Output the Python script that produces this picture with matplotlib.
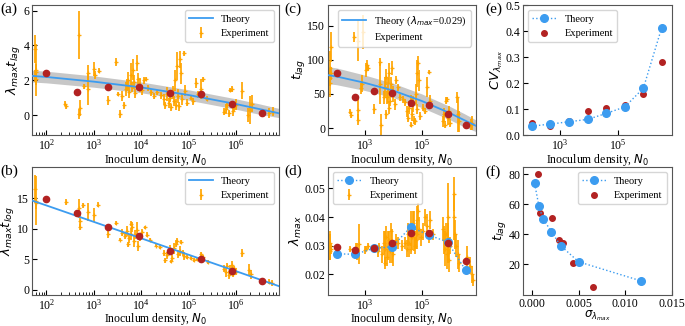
import numpy as np
import matplotlib
matplotlib.use("Agg")
import matplotlib.pyplot as plt

plt.rcParams['font.family'] = 'serif'
plt.rcParams['font.serif'] = ['Liberation Serif', 'DejaVu Serif']
plt.rcParams['mathtext.fontset'] = 'dejavusans'
plt.rcParams['font.size'] = 9

# ---------------- data ----------------
N_red = [100, 450, 2000, 9000, 40000, 180000, 800000, 3500000]
a_red = [2.40, 1.32, 1.59, 1.59, 1.27, 1.19, 0.65, 0.13]
b_red = [14.8, 12.6, 10.2, 8.86, 6.29, 4.98, 3.04, 1.46]
c_red = [81, 46, 55, 51.6, 36.5, 34.5, 21, 4.8]
d_red = [0.0296, 0.0285, 0.0292, 0.0309, 0.0343, 0.0343, 0.0311, 0.0248]
d_theory = [0.0272, 0.0270, 0.0291, 0.0296, 0.0365, 0.0337, 0.0313, 0.0214]
e_red = [0.047, 0.036, 0.052, 0.093, 0.103, 0.114, 0.159, 0.279]
e_theory = [0.034, 0.042, 0.051, 0.060, 0.083, 0.108, 0.180, 0.413]

f_sigma_theory = [0.0003, 0.00077, 0.0012, 0.0021, 0.0031, 0.0050, 0.0117]
f_tlag_theory = [74.0, 58.7, 50.5, 41.8, 32.4, 21.7, 8.9]
f_sigma_red = [0.00063, 0.00084, 0.0022, 0.0029, 0.0033, 0.0044, 0.0065]
f_tlag_red = [80.6, 54.4, 51.2, 36.4, 34.3, 20.6, 4.6]

N_curve = [50, 100, 1e3, 1e4, 1e5, 1e6, 3e6, 8e6]
a_curve = [2.25, 2.19, 1.92, 1.59, 1.15, 0.63, 0.35, 0.10]
a_low = [1.90, 1.85, 1.60, 1.28, 0.85, 0.33, 0.05, -0.15]
a_high = [2.58, 2.52, 2.25, 1.90, 1.45, 0.93, 0.65, 0.38]
b_curve = [14.6, 13.8, 11.1, 8.4, 5.7, 3.0, 1.7, 0.55]
c_curve = [77.5, 75.5, 66.2, 54.8, 39.7, 21.7, 12.0, 3.4]
c_low = [65, 63.5, 55, 44.5, 30, 12, 2, -5]
c_high = [90, 88, 77.5, 65.5, 50, 31.5, 21.5, 12]

exp_a = [(58, 3.8, 0.8), (60, 2.6, 1.5), (62, 2.45, 0.5), (59, 2.25, 0.35), (61, 2.05, 0.3),
         (250, 0.65, 0.15), (265, 0.5, 0.15),
         (500, 4.6, 1.4), (510, 0.4, 0.45), (495, 0.05, 0.3),
         (620, 1.65, 0.15), (760, 2.4, 0.5), (740, 1.5, 0.9),
         (1000, 2.65, 0.4), (1050, 2.3, 0.25), (1300, 2.55, 0.15),
         (2000, 0.85, 0.25), (2900, 3.05, 0.25), (3200, 1.2, 0.1), (3500, 0.05, 0.25),
         (4000, 1.1, 0.3), (4300, 0.55, 0.2), (4700, 1.5, 0.4), (5000, 1.75, 0.35), (5300, 2.0, 0.5),
         (5600, 1.3, 0.3), (6000, 2.3, 0.7), (6300, 1.6, 0.3), (6700, 2.6, 0.6), (7000, 1.9, 0.4),
         (7500, 1.25, 0.25), (8000, 3.0, 0.45), (8500, 2.1, 0.3), (9500, 1.75, 0.4), (10500, 1.45, 0.3),
         (11500, 2.0, 0.2), (12500, 2.1, 0.1), (14000, 1.55, 0.15), (16000, 1.3, 0.2), (19000, 1.1, 0.15),
         (22000, 1.3, 0.15), (26000, 1.15, 0.2),
         (30000, 0.9, 0.3), (32000, 0.55, 0.2), (35000, 1.2, 0.4), (38000, 0.7, 0.3), (40000, 1.0, 0.25),
         (43000, 0.45, 0.2), (46000, 1.3, 0.35), (50000, 0.8, 0.3), (52000, 2.0, 0.6), (55000, 0.6, 0.3),
         (58000, 2.8, 0.8), (60000, 1.1, 0.4), (63000, 0.5, 0.25), (66000, 3.2, 0.5), (70000, 2.4, 0.6),
         (74000, 0.9, 0.3), (78000, 3.55, 0.15), (82000, 1.4, 0.3), (90000, 0.7, 0.2),
         (110000, 1.0, 0.15), (125000, 0.8, 0.2), (140000, 1.85, 0.3), (160000, 1.2, 0.2),
         (185000, 1.5, 0.6), (200000, 2.05, 0.15), (240000, 0.95, 0.15),
         (550000, 0.2, 0.2), (600000, 0.35, 0.3), (650000, 0.55, 0.2), (700000, 0.1, 0.2),
         (750000, 1.45, 0.12), (800000, 1.5, 0.15), (850000, 0.25, 0.3), (900000, 0.45, 0.2),
         (1000000, 0.6, 0.3),
         (1300000, 1.4, 0.5), (1800000, 0.0, 0.4), (2000000, 0.3, 0.8), (2200000, 0.65, 0.5),
         (5000000, 0.1, 0.3), (6000000, 0.2, 0.25)]

exp_b = [(58, 16.5, 2.3), (60, 14.6, 4.0), (62, 14.2, 1.0), (260, 14.3, 0.5),
         (500, 13.3, 1.5), (505, 11.2, 1.0), (510, 10.2, 0.5), (600, 13.8, 0.4), (760, 12.7, 1.5),
         (1000, 12.2, 1.2), (1250, 13.9, 0.4), (2000, 9.1, 0.6), (2900, 10.9, 0.3),
         (3500, 8.2, 0.3), (4000, 9.3, 0.6), (4500, 8.8, 0.5), (5000, 9.6, 0.8), (5200, 7.4, 0.4),
         (5500, 8.4, 0.7), (6000, 9.1, 1.0), (6200, 10.8, 0.4), (6500, 10.2, 0.8), (7000, 8.0, 1.0),
         (7500, 9.0, 0.7), (8000, 9.8, 1.2), (8500, 7.2, 0.8), (9500, 8.6, 0.6), (10500, 9.5, 0.5),
         (12000, 10.2, 0.3), (13000, 9.0, 0.4), (15000, 8.2, 0.3), (20000, 7.2, 0.3), (25000, 7.0, 0.3),
         (30000, 6.0, 0.5), (32000, 4.8, 0.4), (35000, 5.6, 0.6), (40000, 6.5, 0.8), (42000, 4.6, 0.3),
         (45000, 5.2, 0.5), (50000, 6.8, 0.9), (55000, 7.5, 0.6), (58000, 8.0, 0.5), (60000, 5.8, 0.7),
         (65000, 6.3, 0.8), (70000, 7.8, 0.4), (75000, 6.0, 0.5), (80000, 5.5, 0.6), (90000, 5.3, 0.3),
         (110000, 5.2, 0.3), (130000, 4.8, 0.3), (150000, 5.0, 0.4), (180000, 5.8, 0.3),
         (200000, 5.3, 0.3), (250000, 4.5, 0.3),
         (550000, 3.4, 0.6), (600000, 2.8, 0.8), (650000, 3.8, 0.5), (700000, 2.4, 0.6),
         (750000, 3.2, 0.9), (800000, 4.0, 0.6), (850000, 2.6, 0.5), (900000, 3.5, 0.4),
         (1000000, 2.9, 0.6), (1300000, 6.0, 0.7), (1900000, 3.2, 1.0), (2100000, 2.5, 0.7),
         (5000000, 1.3, 0.4), (5800000, 1.0, 0.5)]

exp_c = [(62, 119, 22), (60, 88, 25), (64, 80, 10), (59, 74, 12), (61, 66, 20),
         (300, 24, 4), (315, 19, 4),
         (570, 128, 30), (565, 27, 15), (585, 12, 8),
         (700, 58, 8), (760, 65, 12), (820, 140, 25),
         (1050, 85, 10), (1150, 92, 8), (1300, 88, 5),
         (2000, 28, 8), (3300, 97, 6), (3500, 65, 30), (3700, 5, 15),
         (4500, 45, 10), (5000, 60, 15), (5300, 20, 6), (5600, 75, 12), (6000, 45, 10),
         (6500, 55, 18), (6800, 30, 10), (7200, 80, 15), (7600, 40, 8), (8200, 65, 10),
         (9000, 88, 10), (10000, 50, 12), (11000, 35, 8), (12000, 70, 6), (14000, 60, 5),
         (17000, 45, 5), (21000, 42, 5), (25000, 38, 5),
         (30000, 25, 8), (33000, 15, 6), (36000, 30, 10), (40000, 40, 8), (42000, 5, 4),
         (45000, 20, 10), (50000, 35, 12), (53000, 12, 6), (57000, 10, 5), (60000, 50, 15),
         (65000, 28, 8), (70000, 80, 20), (75000, 95, 10), (80000, 70, 15), (88000, 18, 6),
         (110000, 30, 5), (130000, 25, 5), (150000, 60, 15), (180000, 82, 3), (200000, 40, 8),
         (550000, 10, 8), (600000, 20, 10), (650000, 5, 5), (700000, 40, 5), (750000, 42, 4),
         (800000, 15, 10), (900000, 25, 8), (1000000, 8, 6),
         (1700000, 45, 8), (1800000, 20, 25), (2000000, 10, 15),
         (5500000, 5, 8), (6000000, 8, 10)]

exp_d = [(58, 0.030, 0.005), (60, 0.028, 0.003), (62, 0.029, 0.002), (61, 0.031, 0.003),
         (300, 0.0288, 0.001), (500, 0.029, 0.002), (520, 0.028, 0.003), (620, 0.0305, 0.007),
         (1000, 0.0285, 0.0015), (1100, 0.029, 0.001), (1300, 0.030, 0.001),
         (2200, 0.029, 0.001), (2800, 0.028, 0.002), (3200, 0.0295, 0.0015),
         (4000, 0.027, 0.003), (4500, 0.031, 0.004), (5000, 0.029, 0.006), (5200, 0.024, 0.002),
         (5500, 0.033, 0.004), (6000, 0.026, 0.003), (6500, 0.030, 0.005), (7000, 0.032, 0.003),
         (7500, 0.028, 0.004), (8000, 0.035, 0.003), (9000, 0.030, 0.006), (10000, 0.027, 0.004),
         (12000, 0.032, 0.002), (14000, 0.031, 0.002),
         (20000, 0.030, 0.002), (25000, 0.031, 0.002), (30000, 0.029, 0.003),
         (32000, 0.034, 0.004), (35000, 0.031, 0.005), (40000, 0.036, 0.006), (42000, 0.029, 0.002),
         (45000, 0.033, 0.004), (50000, 0.038, 0.004), (55000, 0.035, 0.007), (58000, 0.030, 0.003),
         (60000, 0.032, 0.003), (65000, 0.039, 0.005), (70000, 0.034, 0.005), (75000, 0.042, 0.003),
         (80000, 0.036, 0.004), (90000, 0.033, 0.003),
         (110000, 0.035, 0.003), (130000, 0.040, 0.003), (150000, 0.037, 0.004),
         (180000, 0.033, 0.002), (200000, 0.039, 0.003), (250000, 0.034, 0.002),
         (550000, 0.036, 0.004), (600000, 0.032, 0.005), (650000, 0.029, 0.006), (700000, 0.034, 0.004),
         (750000, 0.027, 0.005), (800000, 0.031, 0.007), (850000, 0.040, 0.012), (900000, 0.025, 0.004),
         (1000000, 0.030, 0.003),
         (1300000, 0.048, 0.006), (1400000, 0.040, 0.008), (1500000, 0.034, 0.005),
         (1600000, 0.030, 0.004), (1800000, 0.027, 0.005), (2000000, 0.024, 0.003),
         (4000000, 0.026, 0.004), (5000000, 0.023, 0.003), (6000000, 0.020, 0.003), (6500000, 0.018, 0.002)]

# ---------------- style ----------------
ORANGE = '#FFA500'
RED = '#B22222'
BLUE = '#3C9CF0'
XLIM = (50, 8e6)
XLABEL = 'Inoculum density, $N_0$'
W, H = 685, 326
LAB = 8.5
TICK = 8.5
LEG = 7.5

fig = plt.figure(figsize=(6.85, 3.26), dpi=100)


def rect(l, r, t, b):
    return [l / W, 1 - b / H, (r - l) / W, (b - t) / H]


ax_a = fig.add_axes(rect(32, 279, 5, 135))
ax_b = fig.add_axes(rect(32, 279, 167, 295))
ax_c = fig.add_axes(rect(328, 476, 5, 135))
ax_d = fig.add_axes(rect(328, 476, 167, 295))
ax_e = fig.add_axes(rect(523, 672, 5, 135))
ax_f = fig.add_axes(rect(523, 672, 167, 295))

for ax in (ax_a, ax_b, ax_c, ax_d, ax_e, ax_f):
    ax.tick_params(direction='in', which='both', labelsize=TICK, pad=2)
    ax.tick_params(which='major', length=3.5)
    ax.tick_params(which='minor', length=2)
    for s in ax.spines.values():
        s.set_color('#555555')


def exp_plot(ax, data):
    n, y, e = map(np.array, zip(*data))
    return ax.errorbar(n, y, yerr=e, fmt='+', ms=3, mew=0.9, color=ORANGE,
                       ecolor=ORANGE, elinewidth=1.3, alpha=0.95, zorder=2,
                       label='Experiment')


def xlab(ax, text=XLABEL, pad=0):
    ax.set_xlabel(text, fontsize=LAB, labelpad=pad)


def ylab(ax, text):
    ax.set_ylabel(text, fontsize=9.5, labelpad=0)


# (a)
ax_a.set_xscale('log')
ax_a.fill_between(N_curve, a_low, a_high, color='#9a9a9a', alpha=0.55, lw=0, zorder=1)
ax_a.plot(N_curve, a_curve, color=BLUE, lw=1.3, zorder=3, label='Theory')
exp_plot(ax_a, exp_a)
ax_a.plot(N_red, a_red, 'o', color=RED, ms=4.5, zorder=4)
ax_a.set_xlim(*XLIM)
ax_a.set_ylim(-1.15, 6.33)
ax_a.set_yticks([0, 2, 4, 6])
xlab(ax_a)
ylab(ax_a, r'$\lambda_{max}t_{lag}$')
ax_a.legend(loc='upper right', fontsize=LEG, handlelength=2.3)

# (b)
ax_b.set_xscale('log')
ax_b.plot(N_curve, b_curve, color=BLUE, lw=1.3, zorder=3, label='Theory')
exp_plot(ax_b, exp_b)
ax_b.plot(N_red, b_red, 'o', color=RED, ms=4.5, zorder=4)
ax_b.set_xlim(*XLIM)
ax_b.set_ylim(-0.9, 20.1)
ax_b.set_yticks([0, 5, 10, 15])
xlab(ax_b, pad=-1)
ylab(ax_b, r'$\lambda_{max}t_{log}$')
ax_b.legend(loc='upper right', fontsize=LEG, handlelength=2.3)

# (c)
ax_c.set_xscale('log')
ax_c.fill_between(N_curve, c_low, c_high, color='#9a9a9a', alpha=0.55, lw=0, zorder=1)
ax_c.plot(N_curve, c_curve, color=BLUE, lw=1.3, zorder=3,
          label=r'Theory ($\lambda_{max}$=0.029)')
exp_plot(ax_c, exp_c)
ax_c.plot(N_red, c_red, 'o', color=RED, ms=4.5, zorder=4)
ax_c.set_xlim(*XLIM)
ax_c.set_ylim(-10, 180)
ax_c.set_yticks([0, 50, 100, 150])
ax_c.set_xticks([1e3, 1e5])
xlab(ax_c)
ylab(ax_c, r'$t_{lag}$')
ax_c.legend(loc='upper right', fontsize=LEG, handlelength=2.3)

# (d)
ax_d.set_xscale('log')
exp_plot(ax_d, exp_d)
ax_d.plot(N_red, d_red, 'o', color=RED, ms=4.5, zorder=4)
ax_d.plot(N_red, d_theory, 'o:', color=BLUE, ms=5.5, lw=1, zorder=3, label='Theory')
ax_d.set_xlim(*XLIM)
ax_d.set_ylim(0.0128, 0.0575)
ax_d.set_yticks([0.02, 0.03, 0.04, 0.05])
ax_d.set_xticks([1e3, 1e5])
xlab(ax_d, pad=-1)
ylab(ax_d, r'$\lambda_{max}$')
h, l = ax_d.get_legend_handles_labels()
order = [l.index('Theory'), l.index('Experiment')]
ax_d.legend([h[i] for i in order], [l[i] for i in order], loc='upper left',
            fontsize=LEG, handlelength=2.3)

# (e)
ax_e.set_xscale('log')
ax_e.plot(N_red, e_red, 'o', color=RED, ms=4, zorder=3, label='Experiment')
ax_e.plot(N_red, e_theory, 'o:', color=BLUE, ms=5.5, lw=1, zorder=4, label='Theory')
ax_e.set_xlim(*XLIM)
ax_e.set_ylim(0, 0.5)
ax_e.set_xticks([1e3, 1e5])
xlab(ax_e)
ylab(ax_e, r'$CV_{\lambda_{max}}$')
h, l = ax_e.get_legend_handles_labels()
ax_e.legend(h[::-1], l[::-1], loc='upper left', fontsize=LEG, handlelength=2.3)

# (f)
ax_f.plot(f_sigma_red, f_tlag_red, 'o', color=RED, ms=4, zorder=3, label='Experiment')
ax_f.plot(f_sigma_theory, f_tlag_theory, 'o:', color=BLUE, ms=5.5, lw=1, zorder=4, label='Theory')
ax_f.set_xlim(-0.00094, 0.015)
ax_f.set_ylim(-0.5, 85)
ax_f.set_xticks([0, 0.005, 0.010, 0.015])
ax_f.set_xticklabels(['0.000', '0.005', '0.010', '0.015'])
ax_f.set_yticks([20, 40, 60, 80])
xlab(ax_f, r'$\sigma_{\lambda_{max}}$', pad=-1)
ylab(ax_f, r'$t_{lag}$')
h, l = ax_f.get_legend_handles_labels()
ax_f.legend(h[::-1], l[::-1], loc='upper right', fontsize=LEG, handlelength=2.3)

# panel letters
for txt, x, y in [('(a)', 0, 3), ('(b)', 0, 165), ('(c)', 284, 3),
                  ('(d)', 284, 165), ('(e)', 485, 3), ('(f)', 485, 165)]:
    fig.text(x / W, 1 - y / H, txt, fontsize=11, ha='left', va='top')

fig.savefig('out.png', dpi=100)
